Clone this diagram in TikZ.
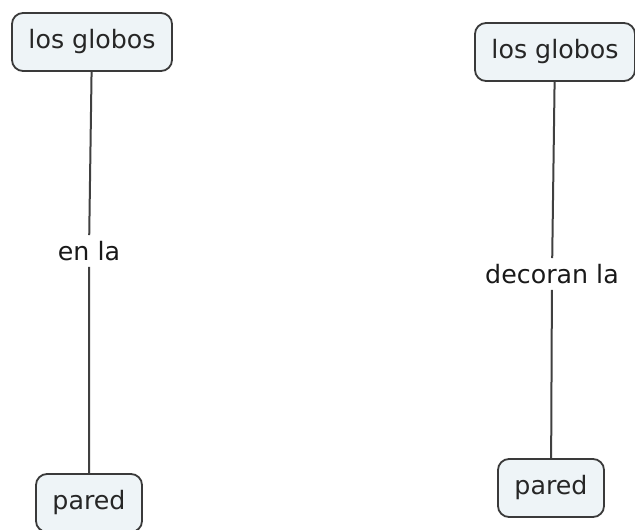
\documentclass[tikz,border=0pt]{standalone}
\usepackage{fontspec}
\setmainfont{DejaVu Sans}
\definecolor{conceptfill}{HTML}{EEF4F7}
\definecolor{conceptline}{HTML}{3A3A3A}
\tikzset{
    concept/.style={draw=conceptline, line width=1.8pt, fill=conceptfill,
        rounded corners=11pt, inner xsep=16.5pt, minimum height=58pt,
        font=\fontsize{25.3}{29}\selectfont, text=black!85},
    linklabel/.style={inner sep=6pt, font=\fontsize{25.3}{29}\selectfont, text=black!90},
    link/.style={draw=black!75, line width=2pt}
}

\begin{document}
\begin{tikzpicture}[x=1pt, y=-1pt]
    \useasboundingbox (0,0) rectangle (635,530);
    \foreach \n/\xa/\ya/\xl/\yl/\xb/\yb/\L in {
            left/92/42/89/251/89/503/en la,
            right/555/52/552/274/551/488/decoran la} {
        \node[concept] (globos-\n) at (\xa,\ya) {los globos};
        \node[linklabel] (link-\n) at (\xl,\yl) {\L};
        \node[concept] (pared-\n) at (\xb,\yb) {pared};
        \draw[link] (globos-\n) -- (link-\n) -- (pared-\n);
    }
\end{tikzpicture}
\end{document}
